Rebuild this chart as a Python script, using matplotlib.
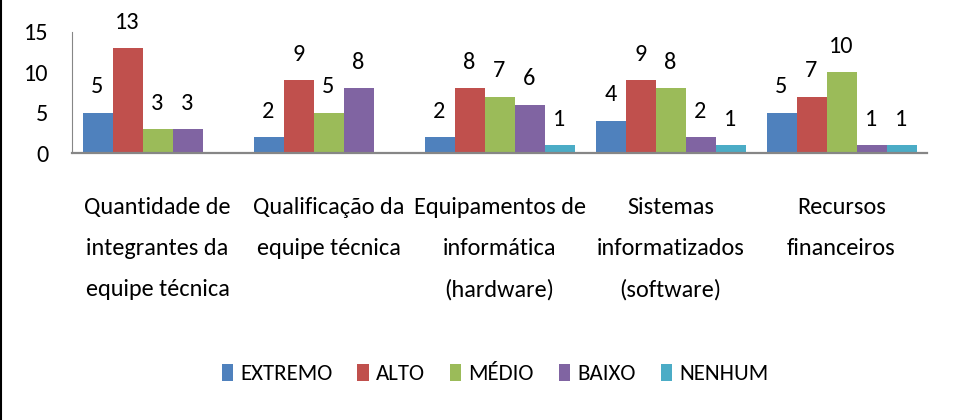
import numpy as np
import matplotlib
matplotlib.use("Agg")
import matplotlib.pyplot as plt
from matplotlib.lines import Line2D

categories = [
    "Quantidade de\nintegrantes da\nequipe técnica",
    "Qualificação da\nequipe técnica",
    "Equipamentos de\ninformática\n(hardware)",
    "Sistemas\ninformatizados\n(software)",
    "Recursos\nfinanceiros",
]
series_names = ["EXTREMO", "ALTO", "MÉDIO", "BAIXO", "NENHUM"]
extremo = [5, 2, 2, 4, 5]
alto = [13, 9, 8, 9, 7]
medio = [3, 5, 7, 8, 10]
baixo = [3, 8, 6, 2, 1]
nenhum = [0, 0, 1, 1, 1]
yticks = [0, 5, 10, 15]

colors = ["#4F81BD", "#C0504D", "#9BBB59", "#8064A2", "#4BACC6"]

plt.rcParams["font.family"] = ["Carlito", "DejaVu Sans"]
FS = 17.5

fig = plt.figure(figsize=(9.69, 4.2), dpi=100)
ax = fig.add_axes([72 / 969, 1 - 153 / 420, (927 - 72) / 969, (153 - 32) / 420])

all_series = [extremo, alto, medio, baixo, nenhum]
x = np.arange(len(categories))
bw = 30 / 171
for i, (vals, name, col) in enumerate(zip(all_series, series_names, colors)):
    pos = x + (i - 2) * bw
    ax.bar(pos, vals, width=bw, color=col, label=name, linewidth=0)
    for px, v in zip(pos, vals):
        if v > 0:
            ax.annotate(str(v), (px, v), xytext=(0, 11), textcoords="offset points",
                        ha="center", va="bottom", fontsize=FS)

ax.set_xlim(-0.5, len(categories) - 0.5)
ax.set_ylim(0, 15)
ax.set_yticks(yticks)
ax.set_yticklabels([str(t) for t in yticks], fontsize=FS)
ax.set_xticks(x)
ax.set_xticklabels(categories, fontsize=FS, linespacing=2.15)
ax.tick_params(axis="y", length=0, pad=17)
ax.tick_params(axis="x", length=0, pad=32)
for s in ["top", "right"]:
    ax.spines[s].set_visible(False)
ax.spines["left"].set_color("#868686")
ax.spines["left"].set_linewidth(0.8)
ax.spines["bottom"].set_color("#868686")
ax.spines["bottom"].set_linewidth(1.6)

fig.legend(loc="center", bbox_to_anchor=(495 / 969, 1 - 374 / 420), ncol=5,
           frameon=False, fontsize=16.5, handlelength=0.5, handleheight=0.8,
           handletextpad=0.3, columnspacing=1.1, borderpad=0)

fig.add_artist(Line2D([1 / 969, 1 / 969], [0, 1], color="black", linewidth=1.5,
                      transform=fig.transFigure))

fig.savefig("out.png", dpi=100)
